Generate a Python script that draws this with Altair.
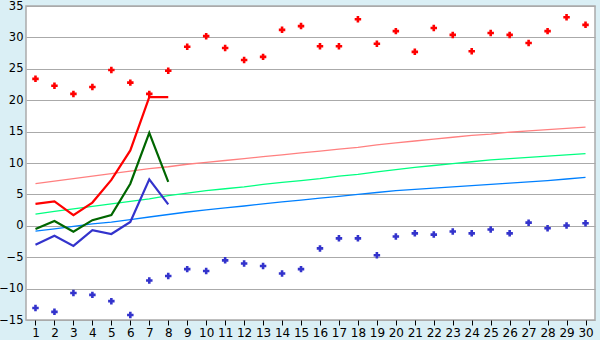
import altair as alt
import pandas as pd

days = list(range(1, 31))

max_pts = [23.4, 22.3, 21.0, 22.1, 24.8, 22.8, 21.0, 24.7, 28.5, 30.2,
           28.3, 26.4, 26.9, 31.2, 31.8, 28.6, 28.6, 32.9, 29.0, 31.0,
           27.7, 31.5, 30.4, 27.8, 30.7, 30.4, 29.1, 31.0, 33.2, 32.0]
min_pts = [-13.1, -13.7, -10.7, -11.0, -12.0, -14.2, -8.7, -8.0, -6.9, -7.2,
           -5.5, -6.0, -6.4, -7.6, -6.9, -3.6, -2.0, -2.0, -4.7, -1.7,
           -1.2, -1.4, -0.9, -1.2, -0.6, -1.2, 0.5, -0.4, 0.05, 0.4]

line_days = [1, 2, 3, 4, 5, 6, 7, 8]
line_max = [3.5, 3.9, 1.7, 3.7, 7.3, 12.0, 20.5, 20.5]
line_avg = [-0.5, 0.75, -0.95, 0.9, 1.7, 6.7, 14.8, 7.0]
line_min = [-3.0, -1.6, -3.2, -0.7, -1.3, 0.6, 7.4, 3.4]

norm_max = [6.7, 7.1, 7.5, 7.9, 8.3, 8.7, 9.1, 9.4, 9.8, 10.1,
            10.4, 10.7, 11.0, 11.3, 11.6, 11.9, 12.2, 12.5, 12.9, 13.2,
            13.5, 13.8, 14.1, 14.4, 14.6, 14.9, 15.1, 15.3, 15.5, 15.7]
norm_avg = [1.85, 2.3, 2.7, 3.1, 3.5, 3.9, 4.3, 4.8, 5.2, 5.6,
            5.9, 6.2, 6.6, 6.9, 7.2, 7.5, 7.9, 8.2, 8.6, 8.95,
            9.3, 9.6, 9.9, 10.2, 10.5, 10.7, 10.9, 11.1, 11.3, 11.5]
norm_min = [-0.85, -0.5, -0.1, 0.3, 0.6, 1.0, 1.4, 1.8, 2.2, 2.55,
            2.85, 3.15, 3.5, 3.8, 4.1, 4.4, 4.7, 5.0, 5.3, 5.6,
            5.8, 6.0, 6.2, 6.4, 6.6, 6.8, 7.0, 7.2, 7.45, 7.7]

y_ticks = [-15, -10, -5, 0, 5, 10, 15, 20, 25, 30, 35]

norm_df = pd.DataFrame({
    "day": days * 3,
    "value": norm_max + norm_avg + norm_min,
    "series": ["nmax"] * 30 + ["navg"] * 30 + ["nmin"] * 30,
})
line_df = pd.DataFrame({
    "day": line_days * 3,
    "value": line_max + line_avg + line_min,
    "series": ["max"] * 8 + ["avg"] * 8 + ["min"] * 8,
})
pts_df = pd.DataFrame({
    "day": days * 2,
    "value": max_pts + min_pts,
    "series": ["pmax"] * 30 + ["pmin"] * 30,
})

color_scale = alt.Scale(
    domain=["nmax", "navg", "nmin", "max", "avg", "min", "pmax", "pmin"],
    range=["#FF8080", "#00FF80", "#0080FF", "#FF0000", "#006600", "#3333CC", "#FF0000", "#3333CC"],
)

x = alt.X("day:Q", scale=alt.Scale(domain=[0.5, 30.5], nice=False, zero=False),
          axis=alt.Axis(values=days, title=None, grid=False, domain=False,
                        ticks=True, tickSize=5, tickColor="#000000", tickWidth=1,
                        labelFontSize=12, labelFont="DejaVu Sans", labelColor="#000000",
                        labelPadding=2, labelFlush=False))
y = alt.Y("value:Q", scale=alt.Scale(domain=[-15, 35], nice=False, zero=False),
          axis=alt.Axis(values=y_ticks, title=None, grid=True, gridColor="#AAAAAA",
                        gridWidth=1.2, gridOpacity=1, domain=False, ticks=False,
                        labelFontSize=11.5, labelFont="DejaVu Sans", labelColor="#000000",
                        labelPadding=3, labelFlush=False))
color = alt.Color("series:N", scale=color_scale, legend=None)

norm_layer = alt.Chart(norm_df).mark_line(strokeWidth=1.3, interpolate="linear").encode(
    x=x, y=y, color=color, detail="series:N")
line_layer = alt.Chart(line_df).mark_line(strokeWidth=2.2).encode(
    x=x, y=y, color=color, detail="series:N")
pts_layer = alt.Chart(pts_df).mark_point(shape="cross", filled=True, size=42, opacity=1).encode(
    x=x, y=y, color=color)

chart = alt.layer(norm_layer, line_layer, pts_layer).properties(
    width=569, height=314,
    background="#DAEFF5",
    autosize=alt.AutoSizeParams(type="none"),
    padding={"left": 26, "top": 6, "right": 5, "bottom": 20},
).configure_view(fill="#FFFFFF", stroke="#AAAAAA", strokeWidth=1.5)

chart.save("out.html", embed_options={"renderer": "svg", "actions": False})
